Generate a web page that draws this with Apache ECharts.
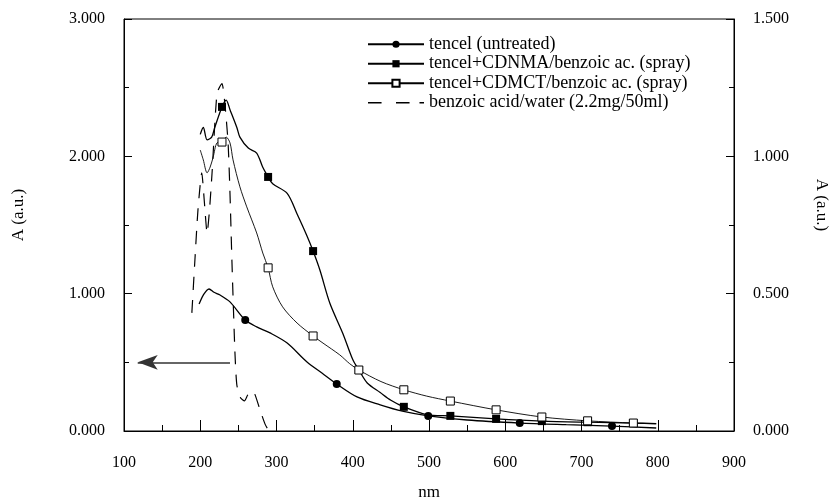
<!DOCTYPE html>
<html>
<head>
<meta charset="utf-8">
<title>UV spectra</title>
<script src="https://cdn.jsdelivr.net/npm/echarts@6/dist/echarts.min.js"></script>
<style>
  html, body { margin: 0; padding: 0; background: #fff; }
  #chart { width: 835px; height: 501px; }
</style>
</head>
<body>
<div id="chart"></div>
<script>
// [nm, A] pairs.
// tencel curves use the right axis (0 - 1.5), benzoic acid the left one (0 - 3)
const untreated = [
  [198.5, 0.462], [204, 0.495], [211.5, 0.517], [218, 0.505], [226, 0.495], [239, 0.470],
  [259, 0.404], [274, 0.379], [291.5, 0.357], [314, 0.320], [340, 0.251], [360, 0.210],
  [379, 0.171], [405.6, 0.124], [436, 0.095], [465, 0.072], [499, 0.055], [550, 0.040],
  [619, 0.029], [680, 0.023], [740, 0.018], [798, 0.011]
];
const untreatedMarks = [259, 379, 499, 619, 740];

const cdnma = [
  [200, 1.08], [204, 1.105], [209, 1.06], [215, 1.07], [219, 1.105], [228.5, 1.18],
  [234, 1.205], [239, 1.17], [248, 1.105], [252, 1.07], [263, 1.03], [274, 1.012],
  [282, 0.96], [289, 0.925], [295, 0.90], [314, 0.865], [327, 0.79], [340, 0.71],
  [348, 0.655], [357, 0.585], [370, 0.465], [387, 0.355], [400, 0.26], [408, 0.222],
  [419, 0.175], [436, 0.14], [450, 0.112], [467, 0.088], [497, 0.06], [528, 0.055],
  [588, 0.044], [648, 0.036], [708, 0.032], [768, 0.029], [798, 0.027]
];

const cdmct = [
  [200, 1.023], [204, 0.987], [209, 0.94], [213, 0.961], [217, 0.998], [222, 1.049],
  [228.5, 1.052], [234, 1.07], [239, 1.049], [243, 0.987], [252, 0.889], [261, 0.816],
  [274, 0.721], [282, 0.648], [289, 0.594], [295, 0.525], [308, 0.452], [327, 0.393],
  [348, 0.346], [361, 0.32], [383, 0.277], [396, 0.245], [408, 0.222], [437, 0.18],
  [467, 0.15], [497, 0.127], [528, 0.109], [588, 0.077], [648, 0.051], [708, 0.037],
  [768, 0.029], [798, 0.026]
];
const sprayMarks = [228.5, 289, 348, 408, 467, 528, 588, 648, 708, 768];

const benzoic = [
  [189, 0.86], [193, 1.245], [197, 1.61], [202, 1.88], [205.5, 1.66], [209, 1.44],
  [212, 1.6], [215.5, 1.88], [222, 2.46], [228.5, 2.53], [232, 2.4], [236.5, 2.1],
  [239, 1.73], [241.5, 1.245], [245.5, 0.57], [248, 0.335], [253, 0.24], [258, 0.22],
  [262, 0.26], [266, 0.29], [271, 0.275], [278, 0.16], [285, 0.05], [290, 0]
];

// arrow pointing at the left axis
const arrowFrom = [239, 0.5];
const arrowTo = [118, 0.5];

const serif = 'Liberation Serif';

function withMarks(points, marks) {
  return points.map(p => marks.includes(p[0]) ? { value: p } : { value: p, symbol: 'none' });
}

const chart = echarts.init(document.getElementById('chart'));

const axisCommon = {
  axisLine: { show: true, lineStyle: { color: '#000', width: 1 } },
  axisTick: { show: true, inside: true, lineStyle: { color: '#000' } },
  minorTick: { show: true, splitNumber: 2, lineStyle: { color: '#000' } },
  splitLine: { show: false },
  nameTextStyle: { color: '#000', fontFamily: serif, fontSize: 17 }
};

chart.setOption({
  animation: false,
  grid: {
    left: 124, right: 101, top: 19, bottom: 70,
    outerBoundsMode: 'none',
    show: true, borderColor: '#000', borderWidth: 1
  },
  legend: {
    orient: 'vertical',
    left: 362,
    top: 30,
    itemWidth: 56,
    itemHeight: 9,
    itemGap: 1,
    selectedMode: false,
    textStyle: { color: '#000', fontFamily: serif, fontSize: 18, lineHeight: 18.5 },
    data: [
      { name: 'tencel (untreated)' },
      { name: 'tencel+CDNMA/benzoic ac. (spray)' },
      { name: 'tencel+CDMCT/benzoic ac. (spray)' },
      { name: 'benzoic acid/water (2.2mg/50ml)',
        icon: 'path://M0 0H15V1.4H0Z M31 0H46V1.4H31Z M57 0H62V1.4H57Z' }
    ]
  },
  xAxis: Object.assign({}, axisCommon, {
    type: 'value', min: 100, max: 900, interval: 100,
    axisTick: { show: true, inside: true, length: 11, lineStyle: { color: '#000' } },
    minorTick: { show: true, splitNumber: 2, length: 6, lineStyle: { color: '#000' } },
    axisLabel: { color: '#000', fontFamily: serif, fontSize: 16, margin: 24 },
    name: 'nm', nameLocation: 'middle', nameGap: 53
  }),
  yAxis: [
    Object.assign({}, axisCommon, {
      type: 'value', min: 0, max: 3, interval: 1, position: 'left',
      axisTick: { show: true, inside: true, length: 8, lineStyle: { color: '#000' } },
      minorTick: { show: true, splitNumber: 2, length: 5, lineStyle: { color: '#000' } },
      axisLabel: { color: '#000', fontFamily: serif, fontSize: 16, margin: 19, formatter: v => v.toFixed(3) },
      name: 'A (a.u.)', nameLocation: 'middle', nameGap: 97,
      nameTextStyle: { color: '#000', fontFamily: serif, fontSize: 17, padding: [0, 0, 0, 20] }
    }),
    Object.assign({}, axisCommon, {
      type: 'value', min: 0, max: 1.5, interval: 0.5, position: 'right',
      axisTick: { show: true, inside: true, length: 8, lineStyle: { color: '#000' } },
      minorTick: { show: true, splitNumber: 2, length: 5, lineStyle: { color: '#000' } },
      axisLabel: { color: '#000', fontFamily: serif, fontSize: 16, margin: 19, formatter: v => v.toFixed(3) },
      name: 'A (a.u.)', nameLocation: 'middle', nameGap: 79, nameRotate: -90,
      nameTextStyle: { color: '#000', fontFamily: serif, fontSize: 17, padding: [0, 40, 0, 0] }
    })
  ],
  series: [
    {
      name: 'benzoic acid/water (2.2mg/50ml)',
      type: 'line', yAxisIndex: 0, data: benzoic,
      showSymbol: false, symbol: 'none', smooth: 0.2,
      lineStyle: { color: '#000', width: 1.2, type: [13, 10] },
      itemStyle: { color: '#000' },
      markLine: {
        silent: true,
        symbol: ['none', 'arrow'],
        symbolSize: [11, 20],
        label: { show: false },
        lineStyle: { color: '#333', width: 1.5, type: 'solid' },
        data: [[{ coord: arrowFrom }, { coord: arrowTo }]]
      }
    },
    {
      name: 'tencel (untreated)',
      type: 'line', yAxisIndex: 1, data: withMarks(untreated, untreatedMarks),
      symbol: 'circle', symbolSize: 8, smooth: 0.3,
      lineStyle: { color: '#000', width: 1.3 },
      itemStyle: { color: '#000' }
    },
    {
      name: 'tencel+CDNMA/benzoic ac. (spray)',
      type: 'line', yAxisIndex: 1, data: withMarks(cdnma, sprayMarks),
      symbol: 'rect', symbolSize: 8, smooth: 0.3,
      lineStyle: { color: '#000', width: 1.3 },
      itemStyle: { color: '#000' }
    },
    {
      name: 'tencel+CDMCT/benzoic ac. (spray)',
      type: 'line', yAxisIndex: 1, data: withMarks(cdmct, sprayMarks),
      symbol: 'rect', symbolSize: 8, smooth: 0.3,
      lineStyle: { color: '#000', width: 0.9 },
      itemStyle: { color: '#fff', borderColor: '#000', borderWidth: 1 }
    }
  ]
});
</script>
</body>
</html>
